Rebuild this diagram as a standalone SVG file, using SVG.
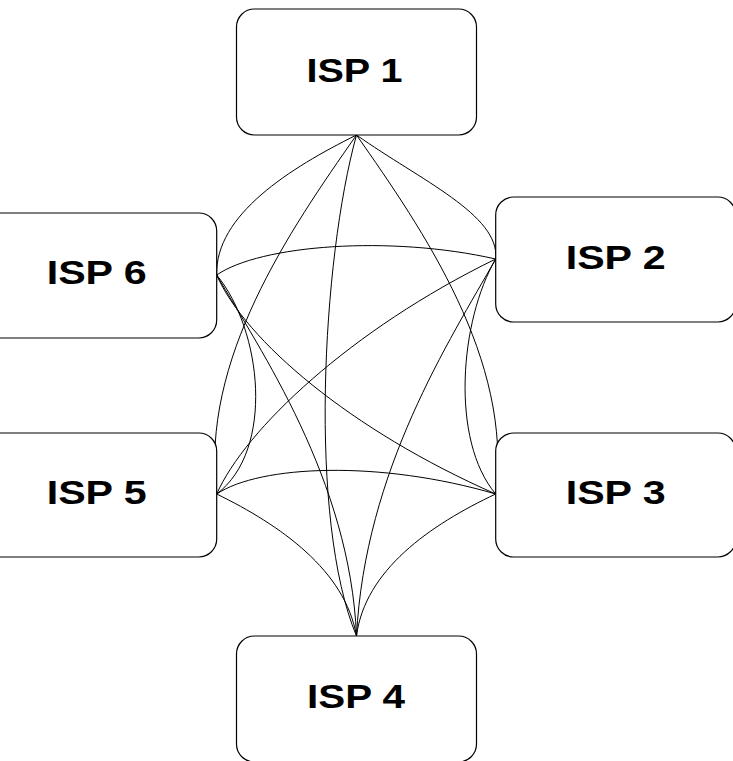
<svg xmlns="http://www.w3.org/2000/svg" width="733" height="761" viewBox="0 0 733 761">
  <style>
    .box { fill: #ffffff; stroke: #000000; stroke-width: 1.2; }
    .label { font-family: "Liberation Sans", Arial, sans-serif; font-weight: bold; font-size: 34px; fill: #000000; }
    .link { fill: none; stroke: #000000; stroke-width: 1; }
  </style>
  <rect width="733" height="761" fill="#ffffff"/>

  <!-- full mesh of peering links between the six ISPs -->
  <g id="connectors">
    <path class="link" d="M356.5,135 C420,180 500,215 495.7,259"/>
    <path class="link" d="M356.5,135 C290,168 215,215 216.7,275"/>
    <path class="link" d="M356.5,135 C423,230 513,360 495.7,494"/>
    <path class="link" d="M356.5,135 C290,230 200,360 216.7,494"/>
    <path class="link" d="M356.5,135 C322,260 308,520 356.5,636"/>
    <path class="link" d="M216.7,275 C260,245 390,235 495.7,259"/>
    <path class="link" d="M216.7,275 C262,330 275,450 216.7,494"/>
    <path class="link" d="M216.7,275 C245,340 350,430 495.7,494"/>
    <path class="link" d="M216.7,275 C260,350 350,480 356.5,636"/>
    <path class="link" d="M495.7,259 C460,320 450,440 495.7,494"/>
    <path class="link" d="M495.7,259 C350,330 245,430 216.7,494"/>
    <path class="link" d="M495.7,259 C450,340 365,470 356.5,636"/>
    <path class="link" d="M216.7,494 C260,465 380,460 495.7,494"/>
    <path class="link" d="M216.7,494 C280,525 345,570 356.5,636"/>
    <path class="link" d="M495.7,494 C430,525 365,570 356.5,636"/>
  </g>

  <g id="isp1">
    <rect class="box" x="236.5" y="9" width="240" height="126" rx="18" ry="18"/>
    <text class="label" x="306.5" y="82" textLength="96" lengthAdjust="spacingAndGlyphs">ISP 1</text>
  </g>
  <g id="isp2">
    <rect class="box" x="495.7" y="197" width="240" height="125" rx="18" ry="18"/>
    <text class="label" x="565.7" y="269" textLength="100" lengthAdjust="spacingAndGlyphs">ISP 2</text>
  </g>
  <g id="isp3">
    <rect class="box" x="495.7" y="433" width="240" height="124" rx="18" ry="18"/>
    <text class="label" x="565.7" y="504" textLength="100" lengthAdjust="spacingAndGlyphs">ISP 3</text>
  </g>
  <g id="isp4">
    <rect class="box" x="236.5" y="636" width="240" height="126" rx="18" ry="18"/>
    <text class="label" x="307" y="708" textLength="98" lengthAdjust="spacingAndGlyphs">ISP 4</text>
  </g>
  <g id="isp5">
    <rect class="box" x="-23.3" y="433" width="240" height="124" rx="18" ry="18"/>
    <text class="label" x="46.7" y="504" textLength="100" lengthAdjust="spacingAndGlyphs">ISP 5</text>
  </g>
  <g id="isp6">
    <rect class="box" x="-23.3" y="213" width="240" height="125" rx="18" ry="18"/>
    <text class="label" x="46.7" y="284" textLength="100" lengthAdjust="spacingAndGlyphs">ISP 6</text>
  </g>
</svg>
